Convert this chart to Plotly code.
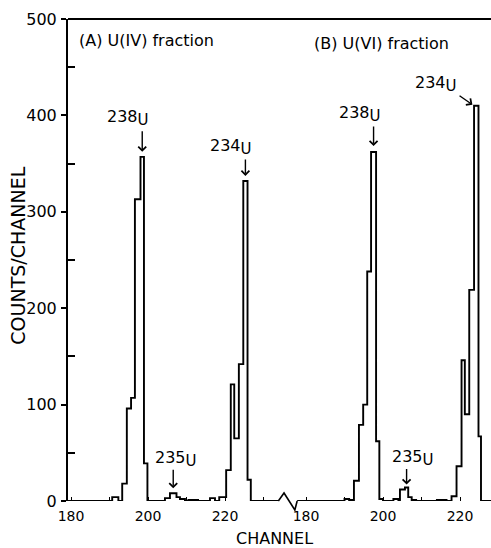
import plotly.graph_objects as go

# ---------------- data ----------------
# Panel A : U(IV) fraction -- histogram bin edges (channel) and counts in each bin
a_edges = [179.2, 190.7, 192.3, 193.3, 194.5, 195.6, 196.6, 198.05, 198.95, 199.85,
           204.4, 205.7, 207.4, 208.3, 209.6, 210.5, 213.0, 216.1, 217.4, 218.5,
           220.3, 221.5, 222.4, 223.6, 224.75, 225.85, 226.7, 233.85]
a_counts = [0, 4, 0, 18, 96, 107, 313, 357, 39,
            0, 3, 8, 4, 2, 0, 1, 0, 3, 0, 4,
            32, 121, 65, 142, 332, 22, 0]

# Panel B : U(VI) fraction
b_edges = [177.7, 190.0, 191.2, 192.45, 193.75, 194.85, 195.9, 196.9, 198.2, 199.05,
           200.0, 202.7, 204.0, 204.4, 205.7, 206.55, 207.45, 208.6, 214.0, 216.5,
           217.8, 219.1, 220.4, 221.25, 222.4, 223.65, 224.8, 225.45, 228.05]
b_counts = [0, 2, 1, 21, 79, 100, 238, 362, 62, 2,
            0, 2, 0, 12, 14, 4, 1, 0, 1, 0,
            5, 36, 146, 90, 219, 410, 67, 0]

panel_titles = ["(A) U(IV) fraction", "(B) U(VI) fraction"]
x_ticks = [180, 200, 220]
x_minor = [190, 210, 230]
y_ticks = [0, 100, 200, 300, 400, 500]
y_minor = [50, 150, 250, 350, 450]
isotopes = ["238", "235", "234"]
isotope_windows = {"238": (192, 200), "235": (204, 208), "234": (219, 227)}

# ---------------- layout geometry ----------------
A_DOM = [0.0, 0.5248]
B_DOM = [0.5248, 1.0]
A_RANGE = [179.22, 236.88]
B_RANGE = [175.84, 228.05]
FONT = "DejaVu Sans"

fig = go.Figure()
for edges, counts, xa in [(a_edges, a_counts, "x"), (b_edges, b_counts, "x2")]:
    fig.add_trace(go.Scatter(x=edges, y=counts + [0], mode="lines",
                             line=dict(shape="hv", color="black", width=1.9),
                             xaxis=xa, yaxis="y", hoverinfo="skip"))


def peak_bin(edges, counts, lo, hi):
    best = None
    for i, c in enumerate(counts):
        mid = 0.5 * (edges[i] + edges[i + 1])
        if lo <= mid <= hi and (best is None or c > counts[best]):
            best = i
    return edges[best], edges[best + 1], counts[best]


# label styling: (panel, isotope) -> arrow (ax, ay, standoff, use_left_edge), text shift (dx, dy)
label_style = {
    ("A", "238"): ((0, -27, 5, False), (-14, 39)),
    ("A", "235"): ((0, -25, 5, False), (3, 34)),
    ("A", "234"): ((0, -23, 5, False), (-14, 34)),
    ("B", "238"): ((0, -27, 6, False), (-14, 38)),
    ("B", "235"): ((0, -20, 3, False), (6, 30)),
    ("B", "234"): ((-16, -11, 2, True), (-38, 22)),
}

annotations = []
for panel, edges, counts, xref in [("A", a_edges, a_counts, "x"), ("B", b_edges, b_counts, "x2")]:
    for iso in isotopes:
        lo, hi = isotope_windows[iso]
        l, r, c = peak_bin(edges, counts, lo, hi)
        (ax, ay, so, left), (dx, dy) = label_style[(panel, iso)]
        xp = l if left else 0.5 * (l + r)
        annotations.append(dict(x=xp, y=c, xref=xref, yref="y", text="", showarrow=True,
                                ax=ax, ay=ay, arrowhead=4, arrowsize=1.1, arrowwidth=1.4,
                                arrowcolor="black", standoff=so))
        annotations.append(dict(x=xp, y=c, xref=xref, yref="y",
                                text=iso + "<sub><span style='font-size:15px'>U</span></sub>",
                                showarrow=False, xshift=dx, yshift=dy,
                                font=dict(family=FONT, size=16, color="black")))

annotations.append(dict(x=181.55, y=478, xref="x", yref="y", text=panel_titles[0],
                        showarrow=False, xanchor="left", yanchor="middle",
                        font=dict(family=FONT, size=16, color="black")))
annotations.append(dict(x=181.5, y=475, xref="x2", yref="y", text=panel_titles[1],
                        showarrow=False, xanchor="left", yanchor="middle",
                        font=dict(family=FONT, size=16, color="black")))
annotations.append(dict(x=-0.117, y=0.508, xref="paper", yref="paper", text="COUNTS/CHANNEL",
                        textangle=-90, showarrow=False, xanchor="center", yanchor="middle",
                        font=dict(family=FONT, size=19, color="black")))
annotations.append(dict(x=0.487, y=-0.077, xref="paper", yref="paper", text="CHANNEL",
                        showarrow=False, xanchor="center", yanchor="middle", borderpad=0,
                        font=dict(family=FONT, size=16, color="black")))


# axis-break zigzag between the panels (paper coords derived from the panel ranges)
def to_paper(ch, dom, rng):
    return dom[0] + (ch - rng[0]) / (rng[1] - rng[0]) * (dom[1] - dom[0])


px_x = 1.0 / 423
px_y = 1.0 / 482
zx0 = to_paper(a_edges[-1], A_DOM, A_RANGE)
zx3 = to_paper(b_edges[0], B_DOM, B_RANGE)
zig = (f"M {zx0},0 L {zx0 + 5.7 * px_x},{8 * px_y} "
       f"L {zx3 - 2.3 * px_x},{-9 * px_y} L {zx3},0")

shapes = [
    dict(type="line", xref="paper", yref="paper", x0=0, x1=1, y0=1, y1=1,
         line=dict(color="black", width=2)),
    dict(type="path", xref="paper", yref="paper", path=zig,
         line=dict(color="black", width=1.6)),
]

xcommon = dict(tickvals=x_ticks, ticks="inside", ticklen=4, tickwidth=1.3, tickcolor="black",
               showline=False, showgrid=False, zeroline=False, automargin=False,
               tickfont=dict(family=FONT, size=14, color="black"),
               minor=dict(tickvals=x_minor, ticks="inside", ticklen=4, tickwidth=1.2,
                          tickcolor="black", showgrid=False),
               ticklabelstandoff=5, anchor="y", fixedrange=True)

fig.update_layout(
    width=491, height=548,
    margin=dict(l=68, r=0, t=19, b=47, pad=0),
    paper_bgcolor="white", plot_bgcolor="white",
    showlegend=False,
    font=dict(family=FONT, color="black"),
    xaxis=dict(domain=A_DOM, range=A_RANGE, **xcommon),
    xaxis2=dict(domain=B_DOM, range=B_RANGE, **xcommon),
    yaxis=dict(range=[0, 500], tickvals=y_ticks, ticks="outside", ticklen=5, tickwidth=1.5,
               tickcolor="black", showline=True, linewidth=2, linecolor="black",
               showgrid=False, zeroline=False, automargin=False,
               tickfont=dict(family=FONT, size=16, color="black"),
               minor=dict(tickvals=y_minor, ticks="inside", ticklen=7, tickwidth=1.5,
                          tickcolor="black", showgrid=False),
               ticklabelstandoff=1, fixedrange=True),
    annotations=annotations,
    shapes=shapes,
)

fig.write_html("out.html")
